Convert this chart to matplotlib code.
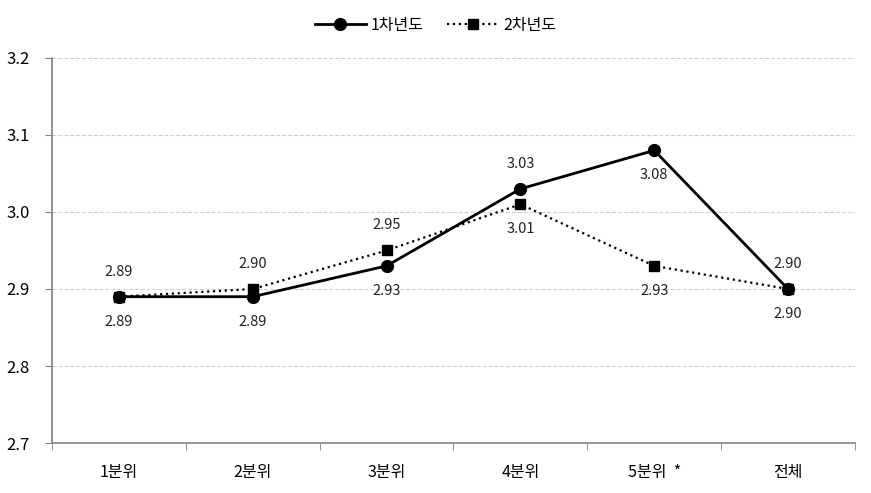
import numpy as np
import matplotlib.pyplot as plt

plt.rcParams['font.family'] = ['Noto Sans CJK KR', 'DejaVu Sans']

# 데이터
categories = ['1분위', '2분위', '3분위', '4분위', '5분위  *', '전체']
year1 = [2.89, 2.89, 2.93, 3.03, 3.08, 2.90]
year2 = [2.89, 2.90, 2.95, 3.01, 2.93, 2.90]
# 라벨 위치 (1 = 위, -1 = 아래)
pos1 = [-1, -1, -1, 1, -1, 1]
pos2 = [1, 1, 1, -1, -1, -1]

fig = plt.figure(figsize=(8.71, 4.93), dpi=100)
ax = fig.add_axes([0.0597, 0.1014, 0.9219, 0.781])

x = np.arange(len(categories))
ax.plot(x, year1, '-', color='black', lw=2.0, marker='o', ms=8.5, label='1차년도', zorder=3)
ax.plot(x, year2, ':', color='black', lw=1.6, marker='s', ms=7.5, label='2차년도', zorder=3)

for xi, v, p in zip(x, year1, pos1):
    ax.annotate(f'{v:.2f}', (xi, v), xytext=(0, 25 * p), textcoords='offset pixels',
                ha='center', va='center', fontsize=10.5, color='#222222')
for xi, v, p in zip(x, year2, pos2):
    ax.annotate(f'{v:.2f}', (xi, v), xytext=(0, 25 * p), textcoords='offset pixels',
                ha='center', va='center', fontsize=10.5, color='#222222')

ax.set_xlim(-0.5, len(categories) - 0.5)
ax.set_ylim(2.7, 3.2)
ax.set_yticks([2.7, 2.8, 2.9, 3.0, 3.1, 3.2])
ax.set_yticklabels([f'{t:.1f}' for t in [2.7, 2.8, 2.9, 3.0, 3.1, 3.2]], fontsize=12)
ax.set_xticks(x)
ax.set_xticklabels(categories, fontsize=11.5)
ax.tick_params(axis='x', length=0, pad=15)
ax.set_xticks(np.arange(len(categories) + 1) - 0.5, minor=True)
ax.tick_params(axis='x', which='minor', length=5, color='#808080', direction='out')
ax.tick_params(axis='y', length=5, color='#808080', pad=11)

ax.grid(axis='y', color='#d0d0d0', linestyle='--', lw=0.8)
ax.set_axisbelow(True)
for s in ['top', 'right']:
    ax.spines[s].set_visible(False)
for s in ['left', 'bottom']:
    ax.spines[s].set_color('#808080')
    ax.spines[s].set_linewidth(1.2)

fig.legend(loc='upper center', bbox_to_anchor=(0.5, 0.995), ncol=2, frameon=False,
           fontsize=11.5, handlelength=3.2, columnspacing=1.5, handletextpad=0.3)

fig.savefig('out.png', dpi=100)
